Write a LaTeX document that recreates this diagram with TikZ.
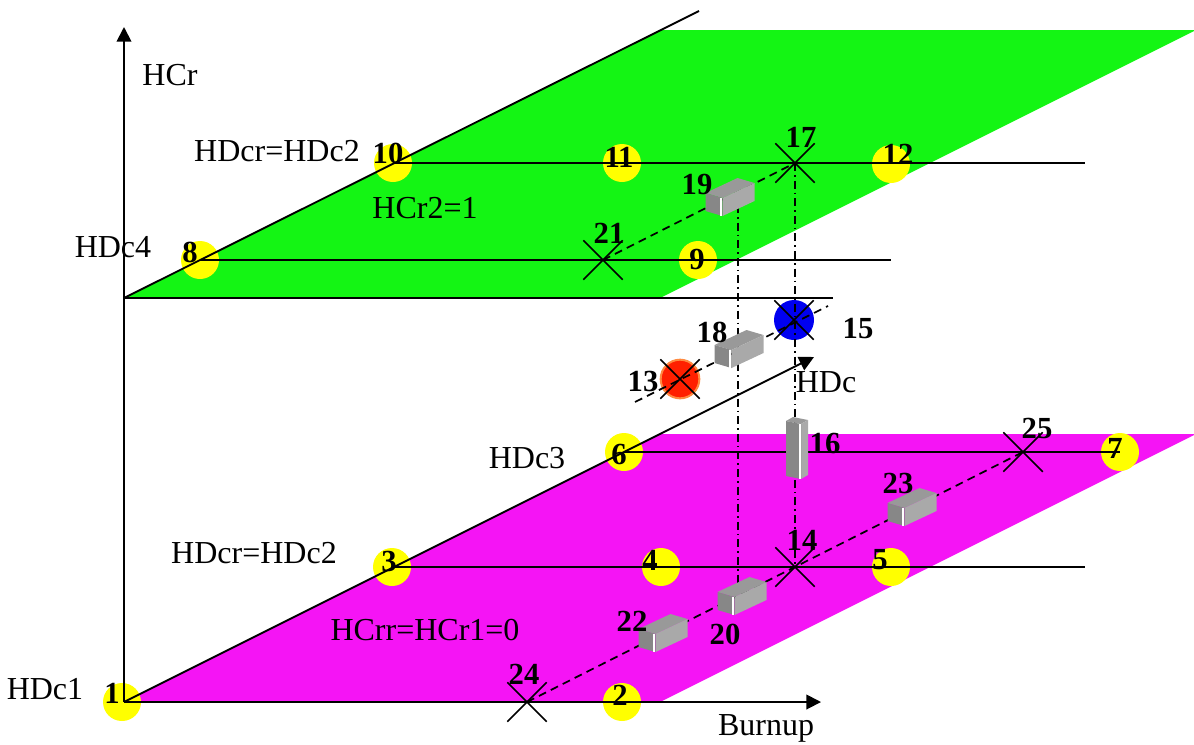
\documentclass[tikz,border=0pt]{standalone}
\usepackage{fontspec}
\setmainfont{Liberation Serif}
\usetikzlibrary{arrows.meta, shapes.misc}
\definecolor{hcgreen}{HTML}{14F514}
\definecolor{hcpink}{HTML}{F514F5}
\definecolor{hcyellow}{HTML}{FFFF00}
\definecolor{hcblue}{HTML}{0000F0}
\definecolor{hcred}{HTML}{FF2000}
\definecolor{hcorange}{HTML}{FF8A40}
\definecolor{hctop}{HTML}{999999}
\definecolor{hcend}{HTML}{878787}
\definecolor{hcside}{HTML}{A9A9A9}

\begin{document}
\begin{tikzpicture}[x=0.75pt, y=-0.75pt, line width=1.4pt,
  lbl/.style={font=\fontsize{24}{24}\selectfont, inner sep=0pt},
  num/.style={font=\fontsize{23}{23}\selectfont\bfseries, inner sep=0pt},
  ydot/.style={circle, fill=hcyellow, minimum size=28.5pt, inner sep=0pt},
  xmark/.style={cross out, draw, minimum size=28.5pt, inner sep=0pt, line width=1.1pt},
  axisline/.style={-{Triangle[length=11pt, width=11pt]}},
  trace/.style={dash pattern=on 6pt off 4pt, line width=1.3pt},
  plumb/.style={dash pattern=on 6pt off 3pt on 1.2pt off 3pt, line width=1.2pt},
  hblock/.pic={
    \fill[hctop] (-24.5,-4) -- (-7.5,1) -- (24.5,-14) -- (7.5,-19) -- cycle;
    \fill[hcside] (-7.5,1) -- (24.5,-14) -- (24.5,4) -- (-7.5,19) -- cycle;
    \fill[hcend] (-24.5,-4) -- (-7.5,1) -- (-7.5,19) -- (-24.5,14) -- cycle;
    \draw[white, line width=1.4pt] (-9,0.6) -- (-9,18.6);
  },
  vblock/.pic={
    \fill[hctop] (-11,-26) -- (4,-23) -- (11,-27) -- (-4,-30) -- cycle;
    \fill[hcside] (4,-23) -- (11,-27) -- (11,28) -- (4,32) -- cycle;
    \fill[hcend] (-11,-26) -- (4,-23) -- (4,32) -- (-11,29) -- cycle;
    \draw[white, line width=1.4pt] (3,-23.2) -- (3,31.8);
  },
]
\useasboundingbox (0,0) rectangle (1194,744);

\fill[hcgreen] (124,298) -- (660,30) -- (1196,30) -- (660,298) -- cycle;
\fill[hcpink] (124,702) -- (660,434) -- (1196,434) -- (660,702) -- cycle;

\node[ydot] (p1) at (122,702) {};
\node[ydot] (p2) at (622,702) {};
\node[ydot] (p3) at (392,567) {};
\node[ydot] (p4) at (661,567) {};
\node[ydot] (p5) at (891,567) {};
\node[ydot] (p6) at (624,452) {};
\node[ydot] (p7) at (1120,452) {};
\node[ydot] (p8) at (200,260) {};
\node[ydot] (p9) at (698,260) {};
\node[ydot] (p10) at (393,163) {};
\node[ydot] (p11) at (622,163) {};
\node[ydot] (p12) at (891,164) {};
\node[circle, fill=hcred, draw=hcorange, line width=1.5pt, minimum size=29pt, inner sep=0pt] (p13) at (680,379) {};
\node[circle, fill=hcblue, minimum size=30pt, inner sep=0pt] (p15) at (794,320) {};

\coordinate (o) at (124,702);
\coordinate (top) at (124,27);
\coordinate (burn) at (821,702);
\coordinate (hdc) at (814,357);
\coordinate (g0) at (124,298);
\coordinate (g1) at (699,11);
\coordinate (g2) at (833,298);
\coordinate (e10) at (1085,163);
\coordinate (e8) at (891,260);
\coordinate (e3) at (1085,567);

\draw[axisline] (o) -- (top);
\draw[axisline] (o) -- (burn);
\draw[axisline] (o) -- (hdc);
\draw (g0) -- (g1);
\draw (g0) -- (g2);
\draw (p10.center) -- (e10);
\draw (p8.center) -- (e8);
\draw (p6.center) -- (p7.center);
\draw (p3.center) -- (e3);

\node[xmark] (x13) at (p13) {};
\node[xmark] (x15) at (p15) {};
\node[xmark] (x14) at (795,567) {};
\node[xmark] (x17) at (795,163) {};
\node[xmark] (x21) at (603,260) {};
\node[xmark] (x24) at (527,702) {};
\node[xmark] (x25) at (1023,452) {};

\coordinate (m0) at (635,402);
\coordinate (m1) at (828,306);
\coordinate (v19) at (738,205);
\coordinate (v20) at (738,588);
\draw[trace] (x24.center) -- (x25.center);
\draw[trace] (x21.center) -- (x17.center);
\draw[trace] (m0) -- (m1);
\draw[plumb] (x17.center) -- (x14.center);
\draw[plumb] (v19) -- (v20);

\coordinate (b16) at (797,447);
\coordinate (b18) at (739,349);
\coordinate (b19) at (730,197);
\coordinate (b20) at (742,596);
\coordinate (b22) at (663,633);
\coordinate (b23) at (912,507);
\pic at (b16) {vblock};
\pic at (b18) {hblock};
\pic at (b19) {hblock};
\pic at (b20) {hblock};
\pic at (b22) {hblock};
\pic at (b23) {hblock};

\node[num] (n1) at (112,693) {1};
\node[num] (n2) at (620,695) {2};
\node[num] (n3) at (389,561) {3};
\node[num] (n4) at (650,560) {4};
\node[num] (n5) at (880,560) {5};
\node[num] (n6) at (619,454) {6};
\node[num] (n7) at (1115,448) {7};
\node[num] (n8) at (190,252) {8};
\node[num] (n9) at (697,259) {9};
\node[num] (n10) at (388,153) {10};
\node[num] (n11) at (619,157) {11};
\node[num] (n12) at (898,154) {12};
\node[num] (n13) at (643,381) {13};
\node[num] (n14) at (802,540) {14};
\node[num] (n15) at (858,329) {15};
\node[num] (n16) at (825,443) {16};
\node[num] (n17) at (801,137) {17};
\node[num] (n18) at (712,332) {18};
\node[num] (n19) at (697,184) {19};
\node[num] (n20) at (725,634) {20};
\node[num] (n21) at (609,233) {21};
\node[num] (n22) at (632,621) {22};
\node[num] (n23) at (898,483) {23};
\node[num] (n24) at (524,674) {24};
\node[num] (n25) at (1037,428) {25};

\node[lbl] (hcr) at (170,75) {HCr};
\node[lbl] (hdcr2) at (277,151) {HDcr=HDc2};
\node[lbl] (hcr2) at (425,208) {HCr2=1};
\node[lbl] (hdc4) at (113,247) {HDc4};
\node[lbl] (hdcl) at (826,382) {HDc};
\node[lbl] (hdc3) at (527,458) {HDc3};
\node[lbl] (hdcr1) at (254,553) {HDcr=HDc2};
\node[lbl] (hcrr) at (425,630) {HCrr=HCr1=0};
\node[lbl] (hdc1) at (45,689) {HDc1};
\node[lbl] (burnup) at (766,728) {Burnup};
\end{tikzpicture}
\end{document}
